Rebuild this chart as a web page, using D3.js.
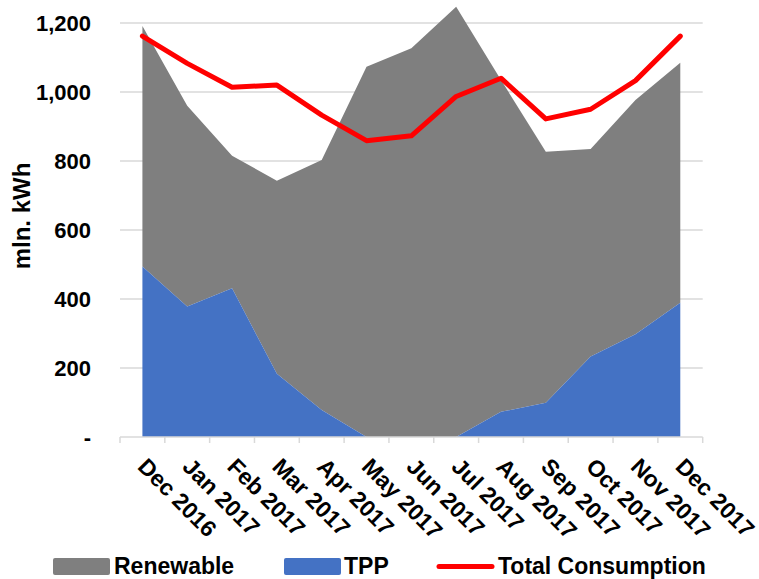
<!DOCTYPE html>
<html>
<head>
<meta charset="utf-8">
<script src="https://cdn.jsdelivr.net/npm/d3@7/dist/d3.min.js"></script>
<style>
  html, body { margin: 0; padding: 0; background: #fff; }
  svg { display: block; font-family: "Liberation Sans", Arial, sans-serif; font-weight: bold; }
</style>
</head>
<body>
<svg id="chart" width="759" height="579"></svg>
<script>
// Monthly electricity balance, mln. kWh
const months = ["Dec 2016", "Jan 2017", "Feb 2017", "Mar 2017", "Apr 2017", "May 2017", "Jun 2017",
                "Jul 2017", "Aug 2017", "Sep 2017", "Oct 2017", "Nov 2017", "Dec 2017"];
const tpp = [494, 378, 431, 183, 78, 0, 0, 0, 73, 99, 233, 298, 389];
const renewable = [697, 582, 384, 560, 725, 1073, 1127, 1247, 962, 728, 602, 679, 696];
const totalConsumption = [1162, 1083, 1014, 1020, 933, 859, 873, 987, 1040, 922, 950, 1033, 1162];
const yTicks = [0, 200, 400, 600, 800, 1000, 1200];

const colors = { Renewable: "#7f7f7f", TPP: "#4472c4", Total: "#ff0000" };

const svg = d3.select("#chart");
const plot = { left: 120, right: 702.7, top: 23, bottom: 437 };

const x = d3.scalePoint().domain(months).range([plot.left, plot.right]).padding(0.5);
const step = x.step();
const y = d3.scaleLinear().domain([0, 1200]).range([plot.bottom, plot.top]);

// gridlines
svg.append("g")
  .selectAll("line")
  .data(yTicks.filter(d => d > 0))
  .join("line")
  .attr("x1", plot.left).attr("x2", plot.right)
  .attr("y1", d => y(d)).attr("y2", d => y(d))
  .attr("stroke", "#d9d9d9").attr("stroke-width", 1.5);

// stacked areas
const rows = months.map((m, i) => ({ month: m, TPP: tpp[i], Renewable: renewable[i] }));
const stack = d3.stack().keys(["TPP", "Renewable"]);
const series = stack(rows);
const area = d3.area()
  .x(d => x(d.data.month))
  .y0(d => y(d[0]))
  .y1(d => y(d[1]));

svg.append("g")
  .selectAll("path")
  .data(series.slice().reverse())
  .join("path")
  .attr("d", area)
  .attr("fill", d => colors[d.key]);

// x axis
const gx = svg.append("g").attr("transform", `translate(0,${plot.bottom})`);
gx.append("line")
  .attr("x1", plot.left).attr("x2", plot.right)
  .attr("stroke", "#d9d9d9").attr("stroke-width", 1.5);
// tick marks sit on category boundaries
const bounds = d3.range(months.length + 1).map(i => plot.left + i * step);
gx.selectAll("line.tick")
  .data(bounds)
  .join("line")
  .attr("class", "tick")
  .attr("x1", d => d).attr("x2", d => d)
  .attr("y1", 0).attr("y2", 6)
  .attr("stroke", "#d9d9d9").attr("stroke-width", 1.5);

gx.selectAll("text")
  .data(months)
  .join("text")
  .attr("transform", d => `translate(${x(d) - 6},${31}) rotate(45)`)
  .attr("text-anchor", "start")
  .attr("font-size", 23)
  .attr("fill", "#000")
  .text(d => d);

// total consumption line
const line = d3.line()
  .x((d, i) => x(months[i]))
  .y(d => y(d));
svg.append("path")
  .datum(totalConsumption)
  .attr("d", line)
  .attr("fill", "none")
  .attr("stroke", colors.Total)
  .attr("stroke-width", 5)
  .attr("stroke-linejoin", "round")
  .attr("stroke-linecap", "round");

// y axis labels
const fmt = d3.format(",");
svg.append("g")
  .selectAll("text")
  .data(yTicks)
  .join("text")
  .attr("x", 91)
  .attr("y", d => y(d))
  .attr("dy", "0.36em")
  .attr("text-anchor", "end")
  .attr("font-size", 22)
  .text(d => d === 0 ? "-" : fmt(d));

svg.append("text")
  .attr("transform", `translate(30,216) rotate(-90)`)
  .attr("text-anchor", "middle")
  .attr("font-size", 24)
  .text("mln. kWh");

// legend
const lg = svg.append("g").attr("font-size", 23);
lg.append("rect").attr("x", 53).attr("y", 558).attr("width", 57).attr("height", 17).attr("rx", 2)
  .attr("fill", colors.Renewable);
lg.append("text").attr("x", 114).attr("y", 574).text("Renewable");
lg.append("rect").attr("x", 284).attr("y", 558).attr("width", 57).attr("height", 17).attr("rx", 2)
  .attr("fill", colors.TPP);
lg.append("text").attr("x", 344).attr("y", 574).text("TPP");
lg.append("line").attr("x1", 439).attr("x2", 492).attr("y1", 566.5).attr("y2", 566.5)
  .attr("stroke", colors.Total).attr("stroke-width", 5).attr("stroke-linecap", "round");
lg.append("text").attr("x", 498).attr("y", 574).text("Total Consumption");
</script>
</body>
</html>
